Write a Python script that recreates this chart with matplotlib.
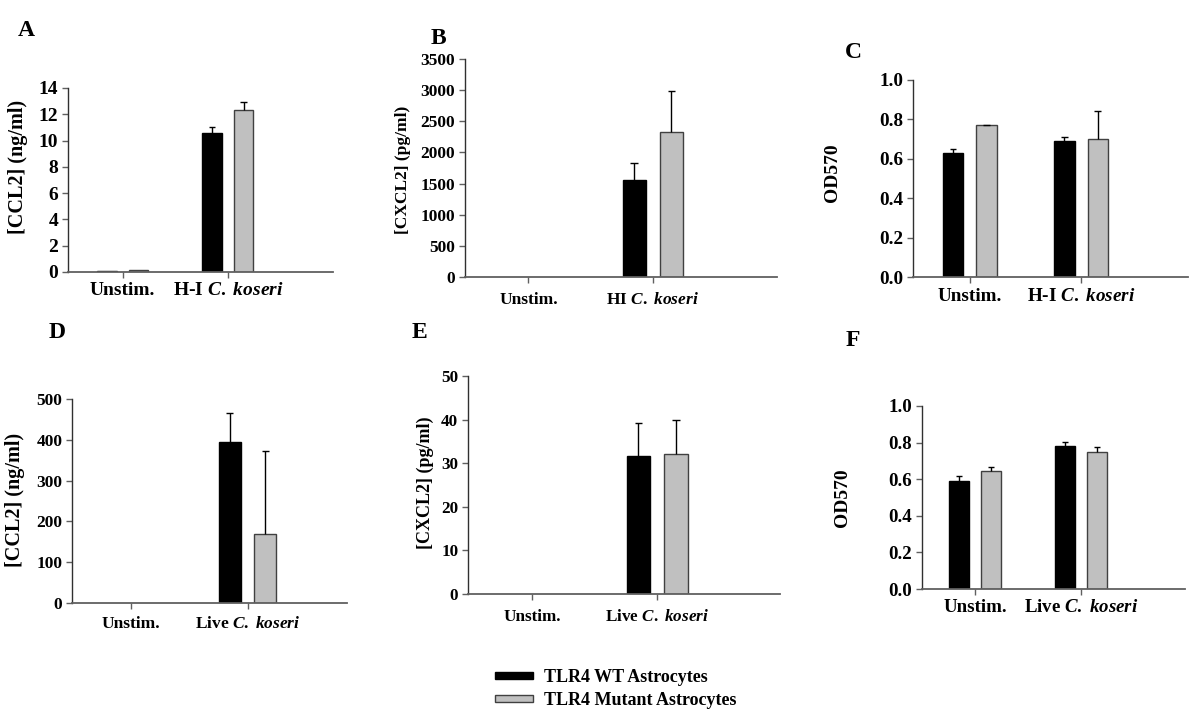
import matplotlib
matplotlib.use('Agg')
import matplotlib.pyplot as plt
from matplotlib.patches import Patch
import numpy as np

plt.rcParams['font.family'] = 'Liberation Serif'
plt.rcParams['font.weight'] = 'bold'
plt.rcParams['mathtext.fontset'] = 'custom'
plt.rcParams['mathtext.rm'] = 'Liberation Serif:bold'
plt.rcParams['mathtext.it'] = 'Liberation Serif:italic:bold'
plt.rcParams['mathtext.bf'] = 'Liberation Serif:bold'

seriesNames = ['TLR4 WT Astrocytes', 'TLR4 Mutant Astrocytes']

# panel A - CCL2, heat-inactivated
groupsA  = ['Unstim.', r'H-I $\mathit{C.}$ $\mathit{koseri}$']
wtA      = [0.10, 10.6]
wtErrA   = [0.0, 0.4]
mutA     = [0.15, 12.3]
mutErrA  = [0.0, 0.6]

# panel B - CXCL2, heat-inactivated
groupsB  = ['Unstim.', r'HI $\mathit{C.}$ $\mathit{koseri}$']
wtB      = [0, 1550]
wtErrB   = [0, 280]
mutB     = [0, 2320]
mutErrB  = [0, 670]

# panel C - OD570, heat-inactivated
groupsC  = ['Unstim.', r'H-I $\mathit{C.}$ $\mathit{koseri}$']
wtC      = [0.63, 0.69]
wtErrC   = [0.02, 0.02]
mutC     = [0.77, 0.70]
mutErrC  = [0.004, 0.145]

# panel D - CCL2, live
groupsD  = ['Unstim.', r'Live $\mathit{C.}$ $\mathit{koseri}$']
wtD      = [0, 395]
wtErrD   = [0, 70]
mutD     = [0, 170]
mutErrD  = [0, 203]

# panel E - CXCL2, live
groupsE  = ['Unstim.', r'Live $\mathit{C.}$ $\mathit{koseri}$']
wtE      = [0, 31.7]
wtErrE   = [0, 7.6]
mutE     = [0, 32.2]
mutErrE  = [0, 7.8]

# panel F - OD570, live
groupsF  = ['Unstim.', r'Live $\mathit{C.}$ $\mathit{koseri}$']
wtF      = [0.59, 0.78]
wtErrF   = [0.025, 0.025]
mutF     = [0.645, 0.75]
mutErrF  = [0.02, 0.028]

W, H = 1200, 713
fig = plt.figure(figsize=(W / 100, H / 100), dpi=100)

def box(left, top, right, bottom):
    return [left / W, 1 - bottom / H, (right - left) / W, (bottom - top) / H]

panels = [
    # letter, pos, groups, data, ymax, step, ylabel, tick font, label font, xlim, letter xy, ylabel xy, xpad
    ('A', box(68, 88, 333, 272), groupsA, (wtA, wtErrA, mutA, mutErrA), 14, 2, '[CCL2] (ng/ml)',
     14, 14.5, (0.48, 3.0), (26, 31), (18, 167), 3),
    ('B', box(465, 59, 777, 277), groupsB, (wtB, wtErrB, mutB, mutErrB), 3500, 500, '[CXCL2] (pg/ml)',
     12.5, 12.5, (0.49, 3.0), (438, 38), (403, 170), 7),
    ('C', box(913, 80, 1188, 277), groupsC, (wtC, wtErrC, mutC, mutErrC), 1.0, 0.2, 'OD570',
     13.8, 14, (0.49, 2.96), (853, 52), (832, 173), 4),
    ('D', box(72, 399, 347, 603), groupsD, (wtD, wtErrD, mutD, mutErrD), 500, 100, '[CCL2] (ng/ml)',
     12.5, 14.5, (0.5, 2.85), (57, 333), (15, 500), 5),
    ('E', box(468, 376, 780, 594), groupsE, (wtE, wtErrE, mutE, mutErrE), 50, 10, '[CXCL2] (pg/ml)',
     12.3, 13, (0.49, 2.98), (419, 333), (425, 483), 7),
    ('F', box(922, 406, 1185, 589), groupsF, (wtF, wtErrF, mutF, mutErrF), 1.0, 0.2, 'OD570',
     13.6, 14, (0.5, 2.98), (853, 340), (843, 498), 3),
]

barWidth = 0.185
offset = 0.15
capHalf = 0.03
axisGray = '#606060'

def up_errors(ax, xs, ys, errs):
    # one-sided error bars, only where there is an error
    for xv, yv, ev in zip(xs, ys, errs):
        if ev > 0:
            ax.vlines(xv, yv, yv + ev, color='black', linewidth=1, zorder=3)
            ax.hlines(yv + ev, xv - capHalf, xv + capHalf, color='black', linewidth=1, zorder=3)

for letter, pos, groups, data, ymax, step, ylabel, tickFs, labFs, xlim, letterXY, ylabXY, xpad in panels:
    wt, wtErr, mut, mutErr = data
    ax = fig.add_axes(pos)
    x = np.arange(1, len(groups) + 1)
    b1 = ax.bar(x - offset, wt, barWidth, color='black', edgecolor='black', linewidth=1)
    b2 = ax.bar(x + offset, mut, barWidth, color='#c0c0c0', edgecolor='#404040', linewidth=1)
    for p in list(b1.patches) + list(b2.patches):
        if p.get_height() == 0:
            p.set_visible(False)
    up_errors(ax, x - offset, wt, wtErr)
    up_errors(ax, x + offset, mut, mutErr)
    ax.set_xlim(*xlim)
    ax.set_ylim(0, ymax)
    ticks = np.arange(0, ymax + step / 2, step)
    ax.set_yticks(ticks)
    if ymax <= 1:
        ax.set_yticklabels([f'{v:.1f}' for v in ticks])
    ax.set_xticks(x)
    ax.set_xticklabels(groups)
    ax.tick_params(axis='y', labelsize=tickFs, length=4, width=1, color=axisGray, pad=3)
    ax.tick_params(axis='x', labelsize=tickFs, length=4, width=1, color=axisGray, pad=xpad)
    for lab in ax.get_xticklabels() + ax.get_yticklabels():
        lab.set_fontweight('bold')
    ax.spines['top'].set_visible(False)
    ax.spines['right'].set_visible(False)
    ax.spines['left'].set_color('#303030')
    ax.spines['bottom'].set_color(axisGray)
    ax.spines['left'].set_linewidth(1)
    ax.spines['bottom'].set_linewidth(1.3)
    fig.text(letterXY[0] / W, 1 - letterXY[1] / H, letter, fontsize=17, fontweight='bold',
             ha='center', va='center')
    fig.text(ylabXY[0] / W, 1 - ylabXY[1] / H, ylabel, fontsize=labFs, fontweight='bold',
             rotation=90, ha='center', va='center')

handles = [Patch(facecolor='black', edgecolor='black'),
           Patch(facecolor='#c0c0c0', edgecolor='#404040')]
fig.legend(handles, seriesNames, loc='center left', bbox_to_anchor=(479 / W, 1 - 689 / H),
           frameon=False, prop=dict(family='Liberation Serif', weight='bold', size=13),
           handlelength=2.1, handleheight=0.25, labelspacing=0.3, handletextpad=0.6)

fig.savefig('out.png', dpi=100)
